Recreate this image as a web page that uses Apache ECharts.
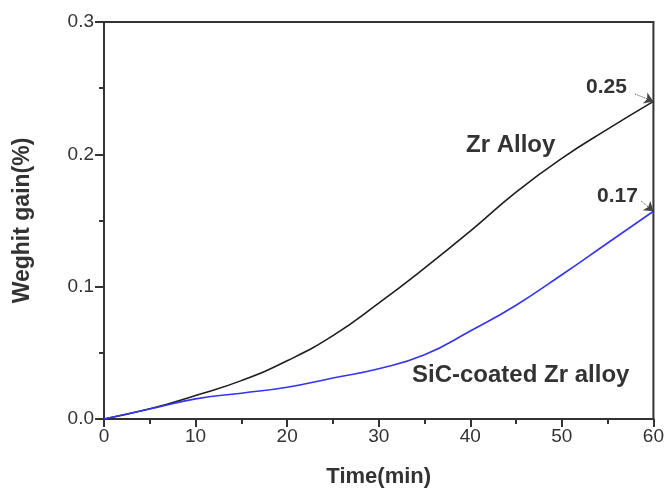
<!DOCTYPE html>
<html>
<head>
<meta charset="utf-8">
<script src="https://cdn.jsdelivr.net/npm/echarts@6/dist/echarts.min.js"></script>
<style>
  html, body { margin: 0; padding: 0; background: #fff; }
  #chart { width: 667px; height: 493px; }
</style>
</head>
<body>
<div id="chart"></div>
<script>
// time in minutes
var times = [0, 5, 10, 15, 20, 25, 30, 35, 40, 45, 50, 55, 60];
// weight gain (%)
var zrAlloy = [0, 0.0077, 0.0178, 0.029, 0.044, 0.063, 0.0875, 0.114, 0.142, 0.1715, 0.197, 0.219, 0.240];
var sicCoated = [0, 0.0075, 0.0152, 0.0195, 0.024, 0.031, 0.038, 0.0485, 0.0665, 0.086, 0.109, 0.133, 0.157];
var endLabels = ["0.25", "0.17"];

var axisColor = "#333";
var textColor = "#333";
var font = "Liberation Sans, Arial, sans-serif";

function pairs(xs, ys) {
  return xs.map(function(x, i) { return [x, ys[i]]; });
}

var chart = echarts.init(document.getElementById("chart"));

var option = {
  animation: false,
  backgroundColor: "#fff",
  grid: {
    left: 104,
    right: 13,
    top: 22,
    bottom: 71,
    show: true,
    borderColor: axisColor,
    borderWidth: 2,
    backgroundColor: "transparent"
  },
  xAxis: {
    type: "value",
    min: 0,
    max: 60,
    interval: 10,
    name: "Time(min)",
    nameLocation: "middle",
    nameGap: 47,
    nameTextStyle: { fontFamily: font, fontSize: 22, fontWeight: "bold", color: textColor },
    axisLine: { show: true, onZero: false, lineStyle: { color: axisColor, width: 2 } },
    axisTick: { show: true, inside: false, length: 8, lineStyle: { color: axisColor, width: 2 } },
    minorTick: { show: true, splitNumber: 2, length: 5, lineStyle: { color: axisColor, width: 2 } },
    axisLabel: { fontFamily: font, fontSize: 19, color: textColor, margin: 8 },
    splitLine: { show: false }
  },
  yAxis: {
    type: "value",
    min: 0,
    max: 0.3,
    interval: 0.1,
    name: "Weghit gain(%)",
    nameLocation: "middle",
    nameGap: 70,
    nameTextStyle: { fontFamily: font, fontSize: 23, fontWeight: "bold", color: textColor },
    axisLine: { show: true, onZero: false, lineStyle: { color: axisColor, width: 2 } },
    axisTick: { show: true, inside: false, length: 9, lineStyle: { color: axisColor, width: 2 } },
    minorTick: { show: true, splitNumber: 2, length: 5, lineStyle: { color: axisColor, width: 2 } },
    axisLabel: {
      fontFamily: font, fontSize: 19, color: textColor, margin: 10,
      formatter: function(v) { return v.toFixed(1); }
    },
    splitLine: { show: false }
  },
  series: [
    {
      name: "Zr Alloy",
      type: "line",
      smooth: true,
      showSymbol: false,
      data: pairs(times, zrAlloy),
      lineStyle: { color: "#1e1e1e", width: 1.6 },
      itemStyle: { color: "#1e1e1e" },
      markLine: {
        silent: true,
        symbol: ["none", "arrow"],
        symbolSize: 9,
        label: { show: false },
        lineStyle: { color: "#444", type: "dotted", width: 1 },
        data: [[{ x: 635, y: 94 }, { coord: [times[times.length - 1], zrAlloy[zrAlloy.length - 1]] }]]
      }
    },
    {
      name: "SiC-coated Zr alloy",
      type: "line",
      smooth: true,
      showSymbol: false,
      data: pairs(times, sicCoated),
      lineStyle: { color: "#3434f2", width: 1.6 },
      itemStyle: { color: "#3434f2" },
      markLine: {
        silent: true,
        symbol: ["none", "arrow"],
        symbolSize: 9,
        label: { show: false },
        lineStyle: { color: "#444", type: "dotted", width: 1 },
        data: [[{ x: 641, y: 201 }, { coord: [times[times.length - 1], sicCoated[sicCoated.length - 1]] }]]
      }
    }
  ],
  graphic: [
    {
      type: "text", left: 466, top: 133,
      style: { text: "Zr Alloy", fontFamily: font, fontSize: 24, fontWeight: "bold", fill: textColor }
    },
    {
      type: "text", left: 412, top: 363,
      style: { text: "SiC-coated Zr alloy", fontFamily: font, fontSize: 24, fontWeight: "bold", fill: textColor }
    },
    {
      type: "text", left: 586, top: 77,
      style: { text: endLabels[0], fontFamily: font, fontSize: 21, fontWeight: "bold", fill: textColor }
    },
    {
      type: "text", left: 597, top: 186,
      style: { text: endLabels[1], fontFamily: font, fontSize: 21, fontWeight: "bold", fill: textColor }
    }
  ]
};

chart.setOption(option);
</script>
</body>
</html>
